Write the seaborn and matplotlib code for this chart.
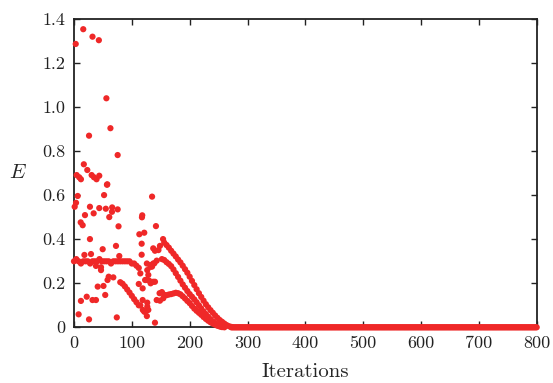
import numpy as np
import pandas as pd
import matplotlib
matplotlib.use('Agg')
import matplotlib.pyplot as plt
import seaborn as sns

# Scattered early-phase points (iteration, E)
scatter_x = [3, 16, 32, 43, 56, 63, 26, 75.5, 17, 23, 4.6, 9, 12, 30.5, 34.5, 39, 43.7,
             57.6, 52, 6.4, 3.5, 1.2, 135, 27.6, 43.7, 55, 66, 75.5, 65.7, 34, 19, 61,
             117.5, 118, 11.6, 15, 77, 141.7, 113, 121.5, 27.6, 154,
             72.6, 49.6, 18, 29.4, 78.3, 38, 46.7, 46.7, 60, 58, 68, 51, 41, 54, 22,
             32, 38, 12, 121.5, 8, 74, 26,
             117, 148.6, 140, 126.7, 128.5, 132.5, 139, 143, 112, 118.7, 124.5, 130,
             132.5, 118.7, 126.7, 126.7, 128.5, 140, 148.6, 154.4,
             146, 137, 117, 126, 132, 135, 137, 114.7, 123, 137, 140, 143, 114.7, 119,
             123, 126, 57]
scatter_y = [1.288, 1.355, 1.321, 1.305, 1.041, 0.905, 0.871, 0.783, 0.741, 0.715, 0.692,
             0.682, 0.673, 0.692, 0.682, 0.673, 0.689, 0.65, 0.601, 0.597, 0.566, 0.548,
             0.594, 0.548, 0.542, 0.539, 0.545, 0.536, 0.525, 0.518, 0.51, 0.501, 0.50,
             0.509, 0.477, 0.464, 0.459, 0.46, 0.423, 0.43, 0.401, 0.401,
             0.37, 0.355, 0.329, 0.333, 0.324, 0.279, 0.273, 0.26, 0.23, 0.215, 0.227,
             0.188, 0.185, 0.147, 0.139, 0.124, 0.124, 0.12, 0.071, 0.059, 0.045, 0.036,
             0.38, 0.37, 0.348, 0.26, 0.238, 0.275, 0.291, 0.303, 0.197, 0.177, 0.215,
             0.212, 0.2, 0.124, 0.112, 0.094, 0.079, 0.021, 0.121, 0.132,
             0.351, 0.359, 0.33, 0.29, 0.283, 0.276, 0.29, 0.245, 0.215, 0.207, 0.207,
             0.124, 0.10, 0.079, 0.071, 0.051, 0.648]

# Plateau near 0.3 (iterations 0..112, every 4)
plateau_x = list(range(0, 113, 4))
plateau_y = [0.30, 0.31, 0.30, 0.29, 0.30, 0.30, 0.30, 0.29, 0.30, 0.30, 0.30, 0.31,
             0.30, 0.30, 0.30, 0.30, 0.29, 0.30, 0.30, 0.30, 0.30, 0.30, 0.30, 0.30,
             0.30, 0.29, 0.29, 0.28, 0.27]

# Descending branch from 0.2 (iterations 80..112)
branch_x = list(range(80, 113, 4))
branch_y = [0.205, 0.198, 0.186, 0.172, 0.158, 0.143, 0.128, 0.114, 0.10]

# Upper decaying curve (iterations 156..272)
upper_x = list(range(156, 273, 4))
upper_y = [0.385, 0.374, 0.362, 0.348, 0.335, 0.322, 0.308, 0.295, 0.280, 0.264,
           0.248, 0.230, 0.211, 0.192, 0.173, 0.155, 0.138, 0.121, 0.105, 0.091,
           0.078, 0.066, 0.054, 0.043, 0.033, 0.025, 0.017, 0.010, 0.005, 0.002]

# Middle decaying curve (iterations 152..260)
middle_x = list(range(152, 261, 4))
middle_y = [0.31, 0.306, 0.296, 0.288, 0.278, 0.263, 0.246, 0.229, 0.212, 0.195,
            0.180, 0.165, 0.151, 0.139, 0.127, 0.114, 0.100, 0.086, 0.072, 0.060,
            0.048, 0.037, 0.027, 0.019, 0.011, 0.005, 0.002, 0.0]

# Lower hump curve (iterations 148..256)
lower_x = list(range(148, 257, 4))
lower_y = [0.155, 0.16, 0.148, 0.146, 0.149, 0.151, 0.154, 0.157, 0.155, 0.150,
           0.141, 0.131, 0.120, 0.110, 0.097, 0.085, 0.075, 0.066, 0.057, 0.047,
           0.038, 0.030, 0.023, 0.017, 0.012, 0.007, 0.004, 0.001]

# Converged tail
tail_x = list(range(272, 801, 2))
tail_y = [0.0] * len(tail_x)

xticks = [0, 100, 200, 300, 400, 500, 600, 700, 800]
yticks = [0, 0.2, 0.4, 0.6, 0.8, 1.0, 1.2, 1.4]
ytick_labels = ['0', '0.2', '0.4', '0.6', '0.8', '1.0', '1.2', '1.4']

df = pd.DataFrame({
    'Iterations': scatter_x + plateau_x + branch_x + upper_x + middle_x + lower_x + tail_x,
    'E': scatter_y + plateau_y + branch_y + upper_y + middle_y + lower_y + tail_y,
})

sns.set_style('ticks')
plt.rcParams['font.family'] = ['cmr10', 'DejaVu Serif']
plt.rcParams['mathtext.fontset'] = 'cm'
plt.rcParams['axes.formatter.use_mathtext'] = True

fig = plt.figure(figsize=(5.53, 3.83), dpi=100)
ax = fig.add_axes([0.1338, 0.1454, 0.8367, 0.8042])

sns.scatterplot(data=df, x='Iterations', y='E', ax=ax, color='#EF2828', s=20,
                edgecolor='none', linewidth=0, clip_on=False, zorder=3)

ax.set_xlim(0, 800)
ax.set_ylim(0, 1.4)
ax.set_xticks(xticks)
ax.set_xticklabels([str(t) for t in xticks])
ax.set_yticks(yticks)
ax.set_yticklabels(ytick_labels)
ax.tick_params(direction='in', length=4, width=1, labelsize=13, colors='#222222',
               top=True, right=True, pad=6)
for side in ax.spines.values():
    side.set_linewidth(1.3)
    side.set_color('#222222')

ax.set_xlabel('Iterations', fontsize=15, labelpad=9)
ax.set_ylabel('$E$', fontsize=15, rotation=0, labelpad=18, va='center')

fig.savefig('out.png', dpi=100)
